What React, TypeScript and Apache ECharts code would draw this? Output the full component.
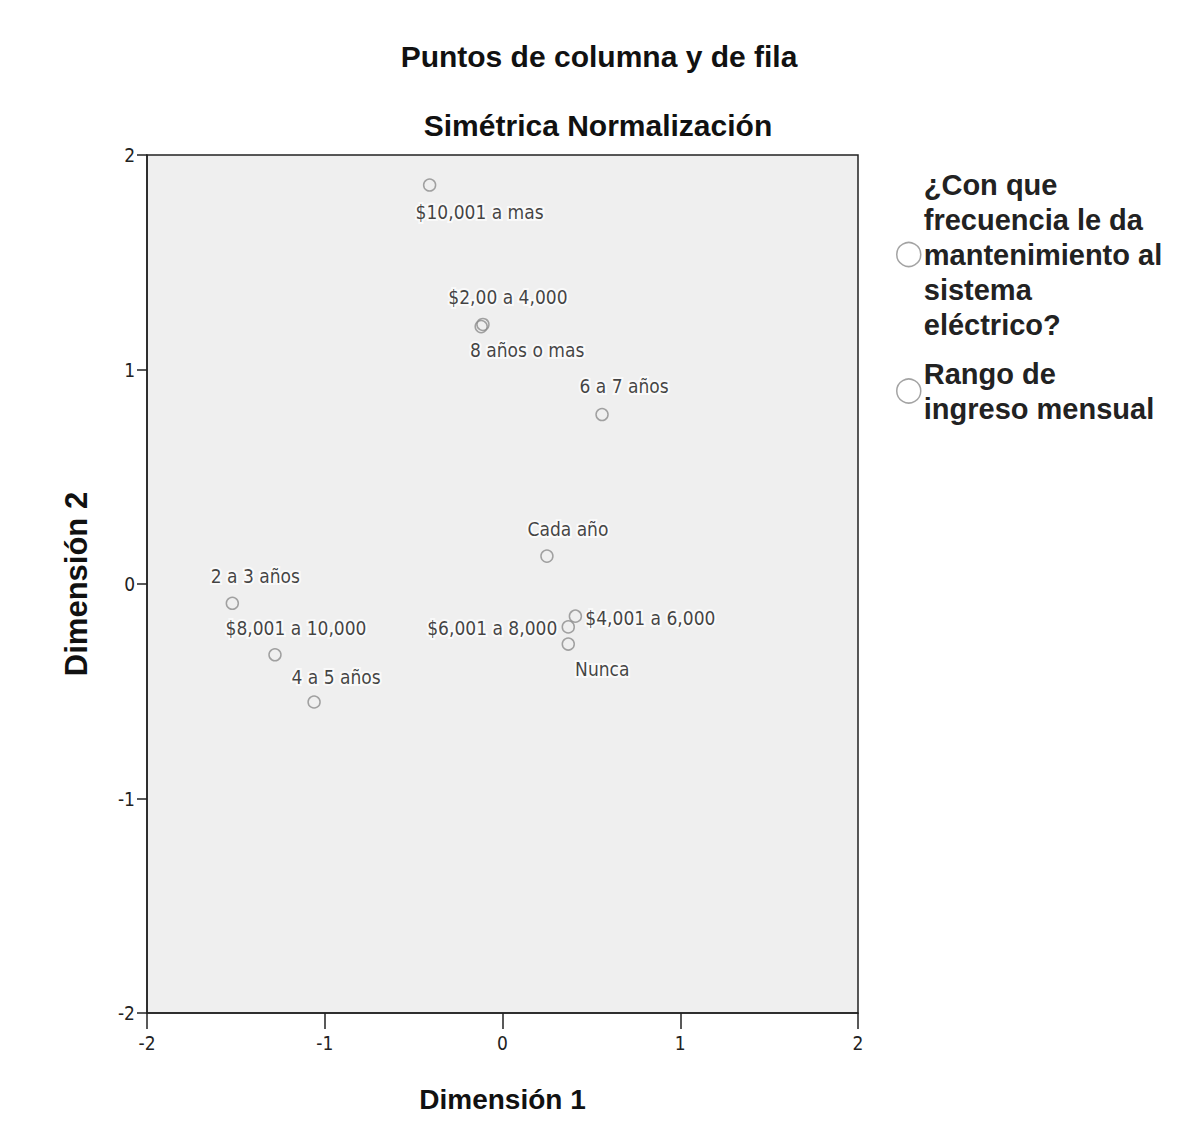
import React, { useEffect, useRef } from "react";
import * as echarts from "echarts";

const titleText = "Puntos de columna y de fila";
const subtitleText = "Simétrica Normalización";
const xAxisName = "Dimensión 1";
const yAxisName = "Dimensión 2";

const seriesNames = [
  "¿Con que\nfrecuencia le da\nmantenimiento al\nsistema\neléctrico?",
  "Rango de\ningreso mensual",
];

// Series 1: frecuencia de mantenimiento
const freqLabels = ["8 años o mas", "6 a 7 años", "Cada año", "2 a 3 años", "4 a 5 años", "Nunca"];
const freqX = [-0.12, 0.56, 0.25, -1.52, -1.06, 0.37];
const freqY = [1.2, 0.79, 0.13, -0.09, -0.55, -0.28];
const freqLabelOffsets = [[46, 23], [22, -29], [21, -27], [23, -27], [22, -25], [34, 25]];

// Series 2: rango de ingreso
const incomeLabels = ["$10,001 a mas", "$2,00 a 4,000", "$8,001 a 10,000", "$6,001 a 8,000", "$4,001 a 6,000"];
const incomeX = [-0.41, -0.11, -1.28, 0.37, 0.41];
const incomeY = [1.86, 1.21, -0.33, -0.2, -0.15];
const incomeLabelOffsets = [[50, 27], [25, -27], [21, -27], [-76, 1], [75, 2]];

const axisTicks = [-2, -1, 0, 1, 2];

const narrowFont = "'Liberation Sans Narrow', 'Arial Narrow', 'DejaVu Sans Condensed', sans-serif";
const mainFont = "'Liberation Sans', Arial, sans-serif";

function buildData(xs: number[], ys: number[], labels: string[], offsets: number[][]) {
  return xs.map((x, i) => ({
    value: [x, ys[i]],
    name: labels[i],
    label: {
      show: true,
      formatter: labels[i],
      position: "inside",
      offset: offsets[i],
      align: "center",
      verticalAlign: "middle",
    },
  }));
}

export default function App() {
  const ref = useRef<HTMLDivElement>(null);
  useEffect(() => {
    document.body.style.margin = "0";
    const chart = echarts.init(ref.current!, null, { renderer: "svg" });
    const markerStyle = {
      color: "rgba(0,0,0,0)",
      borderColor: "#8c8c8c",
      borderWidth: 1.5,
    };
    const labelStyle = {
      fontFamily: narrowFont,
      fontSize: 19,
      color: "#111",
      textBorderColor: "rgba(255,255,255,0.85)",
      textBorderWidth: 4,
    };
    chart.setOption({
      animation: false,
      backgroundColor: "#ffffff",
      title: [
        {
          text: titleText,
          left: 594,
          top: 36,
          textAlign: "center",
          textStyle: { fontFamily: mainFont, fontSize: 30, fontWeight: "bold", color: "#111" },
        },
        {
          text: subtitleText,
          left: 593,
          top: 105,
          textAlign: "center",
          textStyle: { fontFamily: mainFont, fontSize: 30, fontWeight: "bold", color: "#111" },
        },
      ],
      legend: {
        orient: "vertical",
        left: 891,
        top: 162,
        itemWidth: 24,
        itemHeight: 24,
        itemGap: 14,
        icon: "circle",
        data: seriesNames,
        textStyle: {
          fontFamily: mainFont,
          fontSize: 29,
          fontWeight: "bold",
          color: "#222",
          lineHeight: 35,
          padding: [0, 0, 0, -2],
        },
        itemStyle: { color: "rgba(0,0,0,0)", borderColor: "#8c8c8c", borderWidth: 1.5 },
      },
      grid: {
        left: 147,
        top: 155,
        width: 711,
        height: 858,
        show: true,
        backgroundColor: "#efefef",
        borderColor: "#222",
        borderWidth: 1.5,
      },
      xAxis: {
        type: "value",
        min: -2,
        max: 2,
        interval: 1,
        name: xAxisName,
        nameLocation: "middle",
        nameGap: 72,
        nameTextStyle: { fontFamily: mainFont, fontSize: 28, fontWeight: "bold", color: "#111" },
        axisLine: { show: true, onZero: false, lineStyle: { color: "#222", width: 1.5 } },
        axisTick: { show: true, inside: false, length: 16, lineStyle: { color: "#222", width: 1.5 } },
        axisLabel: {
          fontFamily: narrowFont,
          fontSize: 19,
          color: "#222",
          margin: 20,
          customValues: axisTicks,
        },
        splitLine: { show: false },
      },
      yAxis: {
        type: "value",
        min: -2,
        max: 2,
        interval: 1,
        name: yAxisName,
        nameLocation: "middle",
        nameGap: 55,
        nameRotate: 90,
        nameTextStyle: { fontFamily: mainFont, fontSize: 31, fontWeight: "bold", color: "#111" },
        axisLine: { show: true, onZero: false, lineStyle: { color: "#222", width: 1.5 } },
        axisTick: { show: true, inside: false, length: 10, lineStyle: { color: "#222", width: 1.5 } },
        axisLabel: { fontFamily: narrowFont, fontSize: 19, color: "#222", margin: 12 },
        splitLine: { show: false },
      },
      series: [
        {
          name: seriesNames[0],
          type: "scatter",
          symbol: "circle",
          symbolSize: 12,
          itemStyle: markerStyle,
          label: labelStyle,
          data: buildData(freqX, freqY, freqLabels, freqLabelOffsets),
        },
        {
          name: seriesNames[1],
          type: "scatter",
          symbol: "circle",
          symbolSize: 12,
          itemStyle: markerStyle,
          label: labelStyle,
          data: buildData(incomeX, incomeY, incomeLabels, incomeLabelOffsets),
        },
      ],
    });
    return () => chart.dispose();
  }, []);
  return <div ref={ref} style={{ width: 1182, height: 1142 }} />;
}
